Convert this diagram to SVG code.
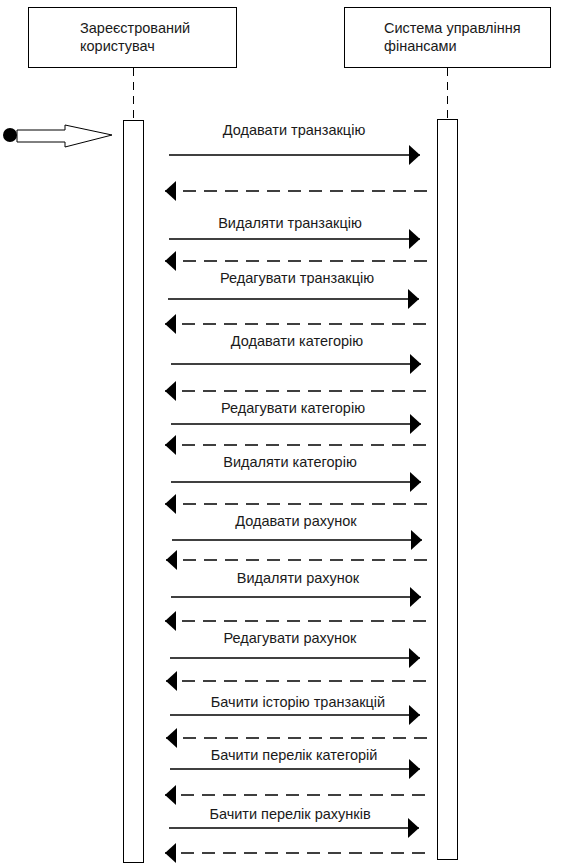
<svg xmlns="http://www.w3.org/2000/svg" width="568" height="866" viewBox="0 0 568 866">
<style>
.box{fill:#fff;stroke:#000;stroke-width:1}
.t{font-family:"Liberation Sans",Arial,sans-serif;font-size:14.5px;fill:#1a1a1a}
.m{font-family:"Liberation Sans",Arial,sans-serif;font-size:14.5px;fill:#1a1a1a;text-anchor:middle}
.life{stroke:#000;stroke-width:1;stroke-dasharray:8,6;fill:none}
.call{stroke:#000;stroke-width:1.3;fill:none}
.ret{stroke:#000;stroke-width:1.3;stroke-dasharray:13,8;fill:none}
</style>
<defs>
<marker id="ah" markerUnits="userSpaceOnUse" markerWidth="12" markerHeight="21" refX="11" refY="10" orient="auto">
<path d="M0,0 L11,10 L0,20 Z" fill="#000"/>
</marker>
</defs>
<rect width="568" height="866" fill="#fff"/>
<g id="user">
<rect class="box" x="28.5" y="7.5" width="208" height="60"/>
<text class="t" x="80" y="33">Зареєстрований</text>
<text class="t" x="80" y="51">користувач</text>
<line class="life" x1="133.5" y1="68" x2="133.5" y2="120"/>
<rect class="box" x="123.5" y="120.5" width="20" height="742"/>
</g>
<g id="system">
<rect class="box" x="344.5" y="7.5" width="206" height="60"/>
<text class="t" x="384" y="33">Система управління</text>
<text class="t" x="384" y="51">фінансами</text>
<line class="life" x1="447.5" y1="68" x2="447.5" y2="119"/>
<rect class="box" x="437.5" y="119.5" width="20" height="740"/>
</g>
<g id="start">
<circle cx="10" cy="135" r="7" fill="#000"/>
<path d="M17,130 L65,130 L65,125 L112,135 L65,147 L65,142 L17,142 Z" fill="#fff" stroke="#000" stroke-width="1"/>
</g>
<g id="connectors">
<text class="m" x="294" y="135">Додавати транзакцію</text>
<line class="call" x1="169" y1="155" x2="420" y2="155" marker-end="url(#ah)"/>
<line class="ret" x1="427" y1="191" x2="165" y2="191" marker-end="url(#ah)"/>

<text class="m" x="290" y="228">Видаляти транзакцію</text>
<line class="call" x1="169" y1="239" x2="420" y2="239" marker-end="url(#ah)"/>
<line class="ret" x1="427" y1="261" x2="165" y2="261" marker-end="url(#ah)"/>

<text class="m" x="297" y="283">Редагувати транзакцію</text>
<line class="call" x1="168" y1="299" x2="419" y2="299" marker-end="url(#ah)"/>
<line class="ret" x1="426" y1="324" x2="165" y2="324" marker-end="url(#ah)"/>

<text class="m" x="297" y="346">Додавати категорію</text>
<line class="call" x1="171" y1="364" x2="421" y2="364" marker-end="url(#ah)"/>
<line class="ret" x1="426" y1="391" x2="165" y2="391" marker-end="url(#ah)"/>

<text class="m" x="293" y="413">Редагувати категорію</text>
<line class="call" x1="171" y1="424" x2="421" y2="424" marker-end="url(#ah)"/>
<line class="ret" x1="426" y1="445" x2="165" y2="445" marker-end="url(#ah)"/>

<text class="m" x="290" y="467">Видаляти категорію</text>
<line class="call" x1="171" y1="482" x2="421" y2="482" marker-end="url(#ah)"/>
<line class="ret" x1="427" y1="504" x2="165" y2="504" marker-end="url(#ah)"/>

<text class="m" x="296" y="526">Додавати рахунок</text>
<line class="call" x1="172" y1="540" x2="422" y2="540" marker-end="url(#ah)"/>
<line class="ret" x1="427" y1="560" x2="166" y2="560" marker-end="url(#ah)"/>

<text class="m" x="298" y="583">Видаляти рахунок</text>
<line class="call" x1="171" y1="597" x2="421" y2="597" marker-end="url(#ah)"/>
<line class="ret" x1="426" y1="621" x2="165" y2="621" marker-end="url(#ah)"/>

<text class="m" x="290" y="643">Редагувати рахунок</text>
<line class="call" x1="170" y1="658" x2="420" y2="658" marker-end="url(#ah)"/>
<line class="ret" x1="426" y1="681" x2="166" y2="681" marker-end="url(#ah)"/>

<text class="m" x="298" y="707">Бачити історію транзакцій</text>
<line class="call" x1="170" y1="715" x2="420" y2="715" marker-end="url(#ah)"/>
<line class="ret" x1="427" y1="738" x2="166" y2="738" marker-end="url(#ah)"/>

<text class="m" x="294" y="760">Бачити перелік категорій</text>
<line class="call" x1="170" y1="769" x2="420" y2="769" marker-end="url(#ah)"/>
<line class="ret" x1="425" y1="795" x2="165" y2="795" marker-end="url(#ah)"/>

<text class="m" x="290" y="819">Бачити перелік рахунків</text>
<line class="call" x1="169" y1="828" x2="419" y2="828" marker-end="url(#ah)"/>
<line class="ret" x1="425" y1="853" x2="165" y2="853" marker-end="url(#ah)"/>
</g>
</svg>
